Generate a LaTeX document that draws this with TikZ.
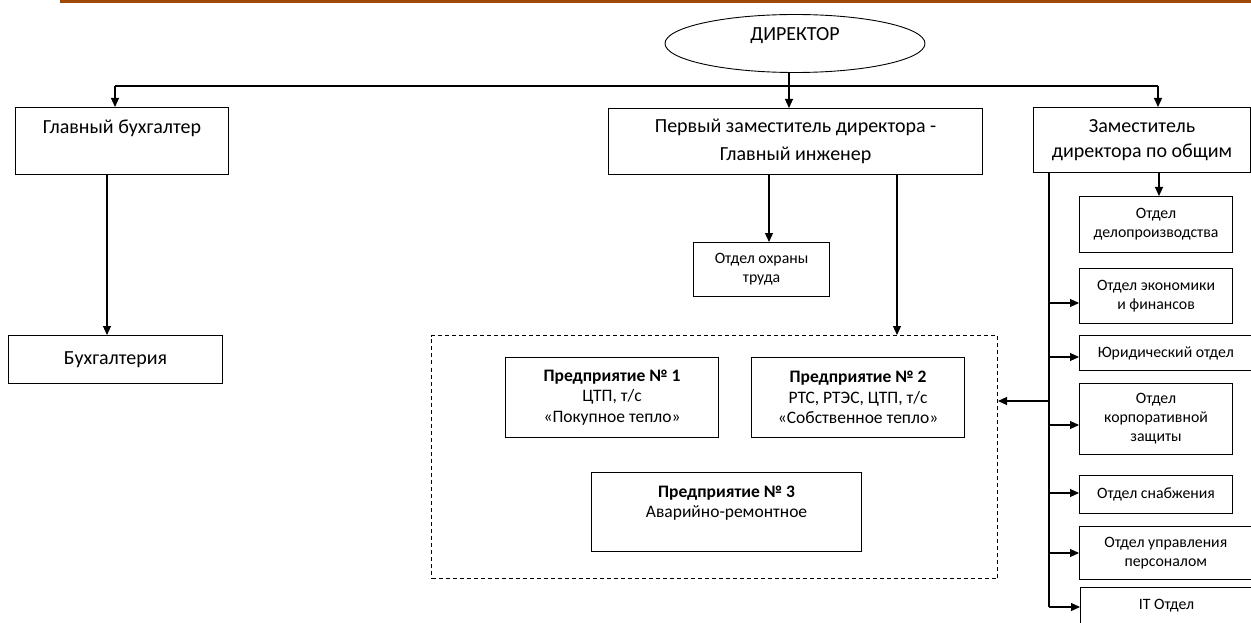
\documentclass[tikz,border=0pt]{standalone}
\usepackage{fontspec}
\setmainfont{Carlito}
\usetikzlibrary{shapes.geometric,arrows.meta}
\definecolor{barbrown}{RGB}{158,74,4}
\newcommand\orgbox[7]{\node[box,#6,minimum width={#4pt-#2pt},minimum height={#5pt-#3pt}] (#1) at (#2,#3) {#7};}
\begin{document}
\begin{tikzpicture}[x=1pt,y=-1pt,
 box/.style={draw, line width=1.1pt, inner sep=0pt, align=center, anchor=north west},
 big/.style={font=\fontsize{20}{28}\selectfont},
 zamf/.style={font=\fontsize{20}{25}\selectfont},
 small/.style={font=\fontsize{15.8}{19}\selectfont},
 ent/.style={font=\fontsize{17.5}{20.5}\selectfont},
 arr/.style={line width=1.1pt, -{Triangle[length=9pt,width=8pt]}},
 ln/.style={line width=1.1pt},
 dashbox/.style={draw, line width=1pt, dash pattern=on 4pt off 3pt, inner sep=0pt, anchor=north west}]
\useasboundingbox (0,0) rectangle (1251,623);
\fill[barbrown] (60,0) rectangle (1251,3);
% director
\node[draw, ellipse, line width=0.9pt, minimum width=260pt, minimum height=58pt, inner sep=0pt] (dir) at (795,43.5) {};
\node[big, inner sep=0pt] (dirt) at (795,36) {ДИРЕКТОР};
% boxes
\orgbox{gb}{15}{107}{228}{174}{big}{Главный бухгалтер\\\mbox{}}
\orgbox{buh}{8}{335}{222}{383}{big}{Бухгалтерия}
\orgbox{pz}{608}{108}{982}{174}{big}{Первый заместитель директора -\\Главный инженер}
\orgbox{zam}{1033}{107}{1250}{172}{zamf}{Заместитель\\директора по общим}
\orgbox{ohr}{693}{242}{829}{296}{small}{Отдел охраны\\труда}
\orgbox{delo}{1079}{196}{1232}{252}{small}{Отдел\\делопроизводства}
\orgbox{econ}{1079}{268}{1232}{323}{small}{Отдел экономики\\и финансов}
\orgbox{jur}{1079}{335}{1251.5}{370}{small}{Юридический отдел}
\orgbox{korp}{1079}{383}{1232}{454}{small}{Отдел\\корпоративной\\защиты}
\orgbox{snab}{1079}{475}{1232}{513}{small}{Отдел снабжения}
\orgbox{upr}{1079}{526}{1251.5}{579}{small}{Отдел управления\\персоналом}
\orgbox{it}{1080}{587}{1252}{640}{small}{IT Отдел\\\mbox{}}
% group
\node[dashbox, minimum width=566pt, minimum height=243pt] (grp) at (431,335) {};
\orgbox{e1}{505}{357}{718}{437}{ent}{\textbf{Предприятие № 1}\\ЦТП, т/с\\«Покупное тепло»}
\orgbox{e2}{751}{357}{964}{437}{ent}{\textbf{Предприятие № 2}\\РТС, РТЭС, ЦТП, т/с\\«Собственное тепло»}
\orgbox{e3}{591}{472}{861}{551}{ent}{\textbf{Предприятие № 3}\\Аварийно-ремонтное\\\mbox{}}
% connectors
\coordinate (busL) at (115,86);
\coordinate (busR) at (1158,86);
\draw[ln] (busL) -- (busR);
\draw[arr] (busL) -- (busL |- gb.north);
\draw[arr] (busR) -- (busR |- zam.north);
\coordinate (dx0) at (789,0);
\draw[arr] (dx0 |- dir.south) -- (dx0 |- pz.north);
\coordinate (gbx) at (107,0);
\draw[arr] (gbx |- gb.south) -- (gbx |- buh.north);
\coordinate (ohx) at (769,0);
\draw[arr] (ohx |- pz.south) -- (ohx |- ohr.north);
\coordinate (grx) at (897,0);
\draw[arr] (grx |- pz.south) -- (grx |- grp.north);
\coordinate (dlx) at (1159,0);
\draw[arr] (dlx |- zam.south) -- (dlx |- delo.north);
\coordinate (vx) at (1049,0);
\coordinate (vend) at (1049,607);
\draw[ln] (vx |- zam.south) -- (vend);
\coordinate (b1) at (1049,303);
\coordinate (b2) at (1049,357);
\coordinate (b3) at (1049,425);
\coordinate (b4) at (1049,493);
\coordinate (b5) at (1049,553);
\coordinate (b0) at (1049,401);
\draw[arr] (b1) -- (b1 -| econ.west);
\draw[arr] (b2) -- (b2 -| jur.west);
\draw[arr] (b3) -- (b3 -| korp.west);
\draw[arr] (b4) -- (b4 -| snab.west);
\draw[arr] (b5) -- (b5 -| upr.west);
\draw[arr] (vend) -- (vend -| it.west);
\draw[arr] (b0) -- (b0 -| grp.east);
\end{tikzpicture}
\end{document}
